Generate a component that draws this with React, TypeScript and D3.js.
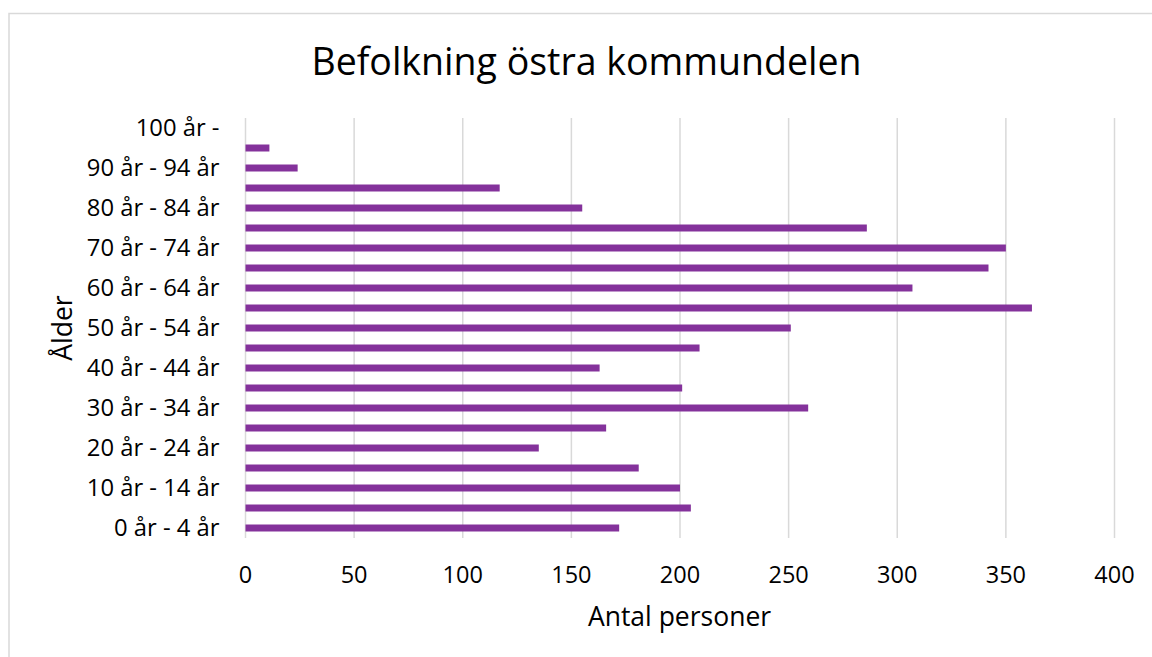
import React from "react";
import * as d3 from "d3";

const categories = [
  "0 år - 4 år", "5 år - 9 år", "10 år - 14 år", "15 år - 19 år", "20 år - 24 år",
  "25 år - 29 år", "30 år - 34 år", "35 år - 39 år", "40 år - 44 år", "45 år - 49 år",
  "50 år - 54 år", "55 år - 59 år", "60 år - 64 år", "65 år - 69 år", "70 år - 74 år",
  "75 år - 79 år", "80 år - 84 år", "85 år - 89 år", "90 år - 94 år", "95 år - 99 år",
  "100 år -",
];
const values = [172, 205, 200, 181, 135, 166, 259, 201, 163, 209, 251, 362, 307, 342, 350, 286, 155, 117, 24, 11, 0];
const xTicks = [0, 50, 100, 150, 200, 250, 300, 350, 400];
const title = "Befolkning östra kommundelen";
const xTitle = "Antal personer";
const yTitle = "Ålder";

const W = 1152;
const H = 657;
const FONT = "'Open Sans', sans-serif";

export default function App() {
  const x = d3.scaleLinear().domain([0, 400]).range([245.5, 1114.5]);
  const y = d3
    .scaleBand<string>()
    .domain([...categories].reverse())
    .range([118, 538])
    .paddingInner(0.65)
    .paddingOuter(0.325);

  return (
    <svg width={W} height={H} style={{ position: "absolute", left: 0, top: 0 }}>
      <rect x={0} y={0} width={W} height={H} fill="#fff" />
      <rect x={9} y={13.5} width={W + 20} height={H + 20} fill="#fff" stroke="#d9d9d9" strokeWidth={1.5} />
      <text x={586.5} y={75} textAnchor="middle" fontFamily={FONT} fontSize={37.5} fill="#000">
        {title}
      </text>
      {xTicks.map((t) => (
        <line key={"g" + t} x1={x(t)} x2={x(t)} y1={118} y2={538} stroke="#d9d9d9" strokeWidth={1.5} />
      ))}
      {categories.map((c, i) => (
        <rect
          key={c}
          x={x(0)}
          y={y(c)!}
          width={x(values[i]) - x(0)}
          height={y.bandwidth()}
          fill="#84329b"
        />
      ))}
      {categories.map((c, i) =>
        i % 2 === 0 ? (
          <text
            key={"l" + c}
            x={219.5}
            y={y(c)! + y.bandwidth() / 2}
            dy="0.35em"
            textAnchor="end"
            fontFamily={FONT}
            fontSize={23.8}
            fill="#000"
          >
            {c}
          </text>
        ) : null
      )}
      {xTicks.map((t) => (
        <text key={"t" + t} x={x(t)} y={583} textAnchor="middle" fontFamily={FONT} fontSize={23.5} fill="#000">
          {t}
        </text>
      ))}
      <text x={679.5} y={626} textAnchor="middle" fontFamily={FONT} fontSize={26.5} fill="#000">
        {xTitle}
      </text>
      <text
        transform={`translate(72, 328) rotate(-90)`}
        textAnchor="middle"
        fontFamily={FONT}
        fontSize={26.5}
        fill="#000"
      >
        {yTitle}
      </text>
    </svg>
  );
}
